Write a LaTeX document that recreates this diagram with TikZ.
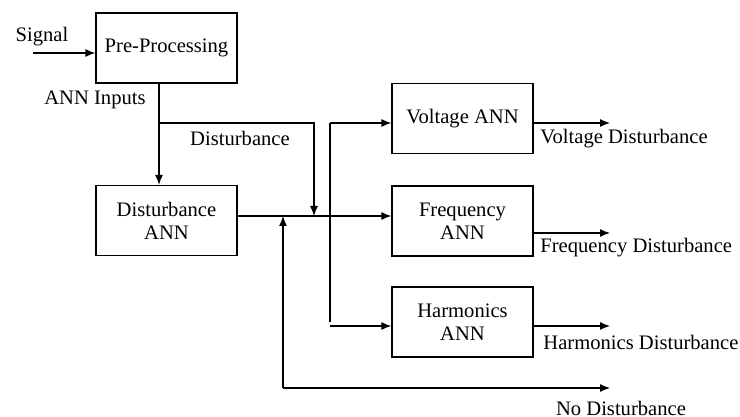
\documentclass[tikz,border=0pt]{standalone}
\usepackage{fontspec}
\setmainfont{Liberation Serif}
\usetikzlibrary{arrows.meta}

\tikzset{
  block/.style={draw, line width=0.6pt, minimum width=70.5pt, minimum height=35pt,
    inner sep=0pt, align=center},
  flow/.style={line width=0.6pt, -{Latex[length=5pt,width=4pt]}},
  wire/.style={line width=0.6pt},
  lbl/.style={inner sep=0pt, anchor=west}
}

\begin{document}
\begin{tikzpicture}[x=0.5pt, y=-0.5pt, font=\fontsize{10.3}{11.5}\selectfont]
    \useasboundingbox (0,0) rectangle (740,417);
    \node [block] (pre) at (166.5,48) {Pre-Processing};
    \node [block] (dist) at (166.5,220.5) {Disturbance\\ANN};
    \node [block] (volt) at (462.5,118.5) {Voltage ANN};
    \node [block] (freq) at (462.5,221) {Frequency\\ANN};
    \node [block] (harm) at (462.5,322) {Harmonics\\ANN};
    \coordinate (sig) at (33,53);
    \coordinate (inp) at (159,123);
    \coordinate (join) at (314,216);
    \coordinate (bus) at (330,123);
    \coordinate (nodist) at (283,388);
    \coordinate (out) at (610,388);
    \draw [flow] (sig)--(sig -| pre.west);
    \draw [flow] (inp |- pre.south)--(inp |- dist.north);
    \draw [flow] (inp)--(inp -| join)--(join);
    \draw [flow] (dist.east |- join)--(join -| freq.west);
    \draw [wire] (bus)--(bus |- harm.west);
    \draw [flow] (bus)--(bus -| volt.west);
    \draw [flow] (bus |- 0,326)--(330,326 -| harm.west);
    \draw [flow] (nodist)--(nodist |- join);
    \draw [flow] (nodist)--(out);
    \draw [flow] (volt.east |- 0,123)--(out |- 0,123);
    \draw [flow] (freq.east |- 0,233)--(out |- 0,233);
    \draw [flow] (harm.east |- 0,326)--(out |- 0,326);
    \node (siglbl) at (42,37) {Signal};
    \node (inplbl) at (95,100) {ANN Inputs};
    \node (distlbl) at (240,138) {Disturbance};
    \node (voltlbl) at (540,139) [lbl] {Voltage Disturbance};
    \node (freqlbl) at (540,248) [lbl] {Frequency Disturbance};
    \node (harmlbl) at (543,342) [lbl] {Harmonics Disturbance};
    \node (nolbl) at (621,408) {No Disturbance};
\end{tikzpicture}
\end{document}
